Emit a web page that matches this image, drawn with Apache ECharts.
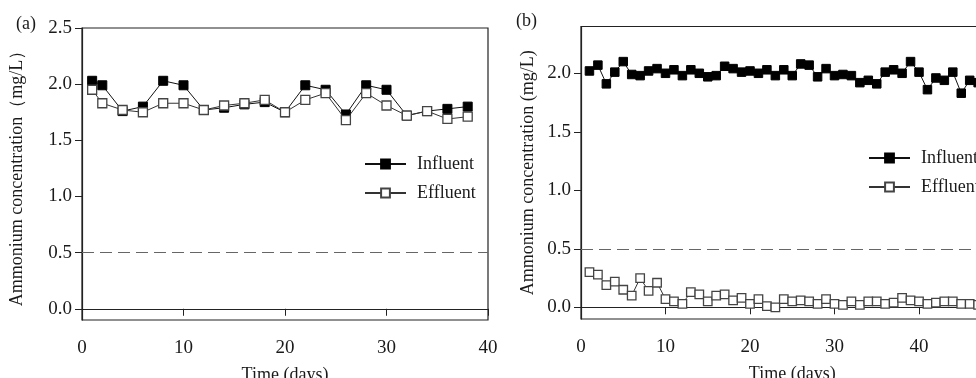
<!DOCTYPE html>
<html>
<head>
<meta charset="utf-8">
<script src="https://cdn.jsdelivr.net/npm/echarts@6/dist/echarts.min.js"></script>
<style>
html,body{margin:0;padding:0;background:#fff;}
#chart{width:976px;height:378px;}
</style>
</head>
<body>
<div id="chart"></div>
<script>
// Panel (a)
var daysA = [1, 2, 4, 6, 8, 10, 12, 14, 16, 18, 20, 22, 24, 26, 28, 30, 32, 34, 36, 38];
var influentA = [2.03, 1.99, 1.76, 1.80, 2.03, 1.99, 1.77, 1.79, 1.82, 1.84, 1.75, 1.99, 1.95, 1.73, 1.99, 1.95, 1.72, 1.76, 1.78, 1.80];
var effluentA = [1.95, 1.83, 1.77, 1.75, 1.83, 1.83, 1.77, 1.81, 1.83, 1.86, 1.75, 1.86, 1.92, 1.68, 1.92, 1.81, 1.72, 1.76, 1.69, 1.71];

// Panel (b)
var daysB = [1, 2, 3, 4, 5, 6, 7, 8, 9, 10, 11, 12, 13, 14, 15, 16, 17, 18, 19, 20, 21, 22, 23, 24, 25, 26, 27, 28, 29, 30, 31, 32, 33, 34, 35, 36, 37, 38, 39, 40, 41, 42, 43, 44, 45, 46, 47];
var influentB = [2.02, 2.07, 1.91, 2.01, 2.10, 1.99, 1.98, 2.02, 2.04, 2.00, 2.03, 1.98, 2.03, 2.00, 1.97, 1.98, 2.06, 2.04, 2.01, 2.02, 2.00, 2.03, 1.98, 2.03, 1.98, 2.08, 2.07, 1.97, 2.04, 1.98, 1.99, 1.98, 1.92, 1.94, 1.91, 2.01, 2.03, 2.00, 2.10, 2.01, 1.86, 1.96, 1.94, 2.01, 1.83, 1.94, 1.92];
var effluentB = [0.30, 0.28, 0.19, 0.22, 0.15, 0.10, 0.25, 0.14, 0.21, 0.07, 0.05, 0.03, 0.13, 0.11, 0.05, 0.10, 0.11, 0.06, 0.08, 0.03, 0.07, 0.01, 0.00, 0.07, 0.05, 0.06, 0.05, 0.03, 0.07, 0.03, 0.02, 0.05, 0.02, 0.05, 0.05, 0.03, 0.04, 0.08, 0.06, 0.05, 0.03, 0.04, 0.05, 0.05, 0.03, 0.03, 0.02];

var yTicksA = [0, 0.5, 1.0, 1.5, 2.0, 2.5];
var yTicksB = [0, 0.5, 1.0, 1.5, 2.0];
var limitValue = 0.5;
var seriesNames = ['Influent', 'Effluent'];
var yTitleA = 'Ammonium concentration\uFF08mg/L\uFF09';
var yTitleB = 'Ammonium concentration (mg/L)';
var xTitle = 'Time (days)';

function pairs(xs, ys) { return xs.map(function (x, i) { return [x, ys[i]]; }); }

var FONT = 'Liberation Serif';
var TXT = '#1a1a1a';

function xAxisCfg(idx, max) {
  return {
    type: 'value', gridIndex: idx, min: 0, max: max, interval: 10,
    name: xTitle, nameLocation: 'middle', nameGap: 46,
    nameTextStyle: { fontFamily: FONT, fontSize: 18, color: TXT },
    axisLine: { lineStyle: { color: '#222', width: 1.2 } },
    axisTick: { inside: false, length: 7, lineStyle: { color: '#222' } },
    axisLabel: { fontFamily: FONT, fontSize: 19, color: TXT, margin: 19 },
    splitLine: { show: false }
  };
}
function yAxisCfg(idx, max, ticks, title, gap) {
  return {
    type: 'value', gridIndex: idx, min: -0.1, max: max,
    name: title, nameLocation: 'middle', nameGap: gap,
    nameTextStyle: { fontFamily: FONT, fontSize: 18, color: TXT },
    axisLine: { lineStyle: { color: '#222', width: 1.2 } },
    axisTick: { inside: false, length: 7, customValues: ticks, lineStyle: { color: '#222' } },
    axisLabel: { fontFamily: FONT, fontSize: 19, color: TXT, margin: 10, customValues: ticks,
      formatter: function (v) { return Number(v).toFixed(1); } },
    splitLine: { show: false }
  };
}
function lineSeries(name, idx, data, filled, withMark, size) {
  var s = {
    name: name, type: 'line', xAxisIndex: idx, yAxisIndex: idx,
    data: data, symbol: 'rect', symbolSize: size, showSymbol: true,
    lineStyle: { color: filled ? '#111' : '#333', width: 1 },
    itemStyle: filled ? { color: '#000', borderColor: '#000', borderWidth: 1 }
                      : { color: '#fff', borderColor: '#444', borderWidth: 1.3 },
    emphasis: { disabled: true },
    animation: false, z: filled ? 3 : 4
  };
  if (withMark) {
    s.markLine = {
      silent: true, symbol: ['none', 'none'], label: { show: false },
      lineStyle: { color: '#666', type: [12, 6], width: 1 },
      data: [{ yAxis: limitValue }]
    };
  }
  return s;
}

var chart = echarts.init(document.getElementById('chart'), null, { renderer: 'canvas' });
chart.setOption({
  backgroundColor: '#fff',
  animation: false,
  grid: [
    { left: 82, top: 28, width: 406, height: 292, show: true, borderColor: '#222', borderWidth: 1.2,
      backgroundColor: 'transparent', outerBoundsMode: 'none', containLabel: false },
    { left: 581, top: 26.5, width: 422.5, height: 292.5, show: true, borderColor: '#222', borderWidth: 1.2,
      backgroundColor: 'transparent', outerBoundsMode: 'none', containLabel: false }
  ],
  xAxis: [xAxisCfg(0, 40), xAxisCfg(1, 50)],
  yAxis: [yAxisCfg(0, 2.5, yTicksA, yTitleA, 56), yAxisCfg(1, 2.4, yTicksB, yTitleB, 44)],
  legend: [
    { data: seriesNames, orient: 'vertical', left: 359, top: 150, itemWidth: 41, itemHeight: 11, itemGap: 11,
      textStyle: { fontFamily: FONT, fontSize: 18, color: TXT, padding: [0, 0, 0, 6] }, selectedMode: false },
    { data: seriesNames, orient: 'vertical', left: 863, top: 144, itemWidth: 41, itemHeight: 11, itemGap: 11,
      textStyle: { fontFamily: FONT, fontSize: 18, color: TXT, padding: [0, 0, 0, 6] }, selectedMode: false }
  ],
  graphic: [
    { type: 'text', left: 16, top: 15, style: { text: '(a)', font: '18px "Liberation Serif"', fill: TXT } },
    { type: 'text', left: 516, top: 12, style: { text: '(b)', font: '18px "Liberation Serif"', fill: TXT } }
  ],
  series: [
    lineSeries(seriesNames[0], 0, pairs(daysA, influentA), true, true, 9),
    lineSeries(seriesNames[1], 0, pairs(daysA, effluentA), false, false, 9),
    lineSeries(seriesNames[0], 1, pairs(daysB, influentB), true, true, 8.5),
    lineSeries(seriesNames[1], 1, pairs(daysB, effluentB), false, false, 8.5)
  ]
});
</script>
</body>
</html>
